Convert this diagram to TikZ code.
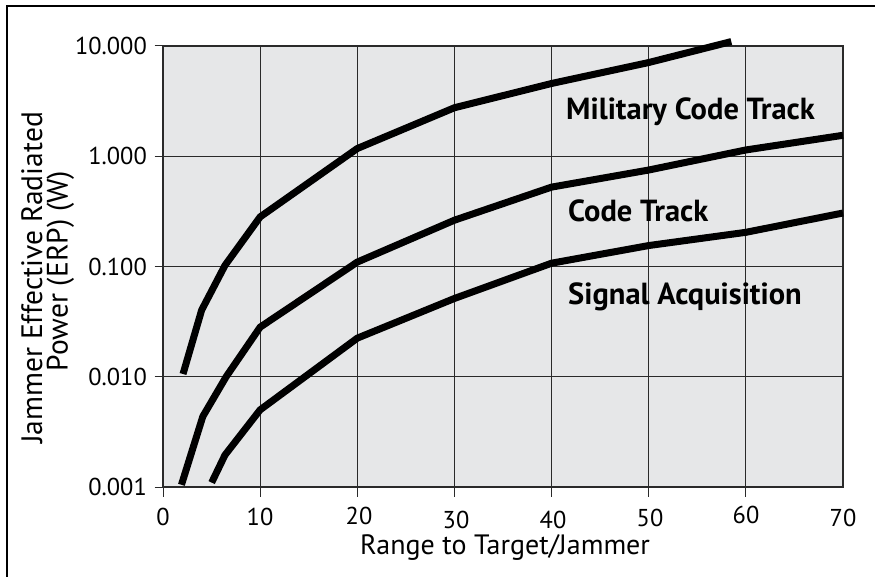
\documentclass[tikz,border=0pt]{standalone}
\usepackage{fontspec}
\setmainfont{PT Sans}
\definecolor{plotbg}{HTML}{E6E7E8}
\definecolor{gridc}{HTML}{2A2A2A}
\begin{document}
\begin{tikzpicture}[
  curve/.style={line width=7pt, black},
  gridline/.style={line width=1pt, gridc},
  ticklab/.style={inner sep=0pt, font=\fontsize{24.4}{28}\selectfont},
  curvelab/.style={inner sep=0pt, anchor=base west, font=\fontsize{30.5}{34}\selectfont\bfseries},
  axlab/.style={inner sep=0pt, anchor=base, font=\fontsize{28}{32}\selectfont},
  ylabel/.style={inner sep=0pt, anchor=base, rotate=90, font=\fontsize{29.5}{34}\selectfont}
]
\useasboundingbox (0,0) rectangle (875pt,576pt);
\clip (0,0) rectangle (875pt,576pt);
\fill[white] (0,0) rectangle (875pt,576pt);
% outer frame
\draw[line width=2.5pt] (7pt,-20pt) rectangle (900pt,570pt);
\begin{scope}[x=9.714pt, y=110.25pt, shift={(163pt,89pt)}]
  \fill[plotbg] (0,0) rectangle (70,4);
  \foreach \xx in {10,20,...,60} \draw[gridline] (\xx,-0.09) -- (\xx,4);
  \draw[gridline] (0,-0.09) -- (0,0);
  \foreach \yy in {1,2,3} \draw[gridline] (-0.85,\yy) -- (70,\yy);
  \draw[gridline] (-0.85,0) -- (0,0);
  \draw[gridline] (-0.85,4) -- (0,4);
  \draw[line width=1.3pt, gridc] (0,0) rectangle (70,4);
  % curves
  \draw[curve] (2.06,1.025) -- (3.98,1.605) -- (6.38,2.01) -- (10,2.45) -- (20,3.07) -- (30,3.44) -- (40,3.66) -- (50,3.85) -- (58.5,4.04);
  \draw[curve] (1.9,0.02) -- (4.1,0.64) -- (6.5,1.0) -- (10,1.45) -- (20,2.04) -- (30,2.42) -- (40,2.72) -- (50,2.875) -- (60,3.057) -- (70,3.19);
  \draw[curve] (5.01,0.04) -- (6.38,0.29) -- (10,0.70) -- (20,1.35) -- (30,1.71) -- (40,2.03) -- (50,2.19) -- (60,2.31) -- (70,2.485);
\end{scope}
% curve labels
\node[curvelab] (lmil) at (566pt,456pt) {Military Code Track};
\node[curvelab] (lcode) at (568pt,354pt) {Code Track};
\node[curvelab] (lsig) at (568pt,271pt) {Signal Acquisition};
% y tick labels
\node[ticklab, anchor=east] (y4) at (147pt,530pt) {10.000};
\node[ticklab, anchor=east] (y3) at (147pt,420pt) {1.000};
\node[ticklab, anchor=east] (y2) at (147pt,309.5pt) {0.100};
\node[ticklab, anchor=east] (y1) at (147pt,199pt) {0.010};
\node[ticklab, anchor=east] (y0) at (147pt,89pt) {0.001};
% x tick labels
\node[ticklab, anchor=base] (x0) at (163pt,51pt) {0};
\node[ticklab, anchor=base] (x1) at (260pt,51pt) {10};
\node[ticklab, anchor=base] (x2) at (359pt,52pt) {20};
\node[ticklab, anchor=base] (x3) at (456pt,48pt) {30};
\node[ticklab, anchor=base] (x4) at (553pt,48pt) {40};
\node[ticklab, anchor=base] (x5) at (650pt,50pt) {50};
\node[ticklab, anchor=base] (x6) at (746pt,53pt) {60};
\node[ticklab, anchor=base] (x7) at (843pt,50pt) {70};
% axis labels
\node[axlab] (xlab) at (505pt,22pt) {Range to Target/Jammer};
\node[ylabel] (ylab1) at (42pt,298pt) {Jammer Effective Radiated};
\node[ylabel] (ylab2) at (67.5pt,305pt) {Power (ERP) (W)};
\end{tikzpicture}
\end{document}
